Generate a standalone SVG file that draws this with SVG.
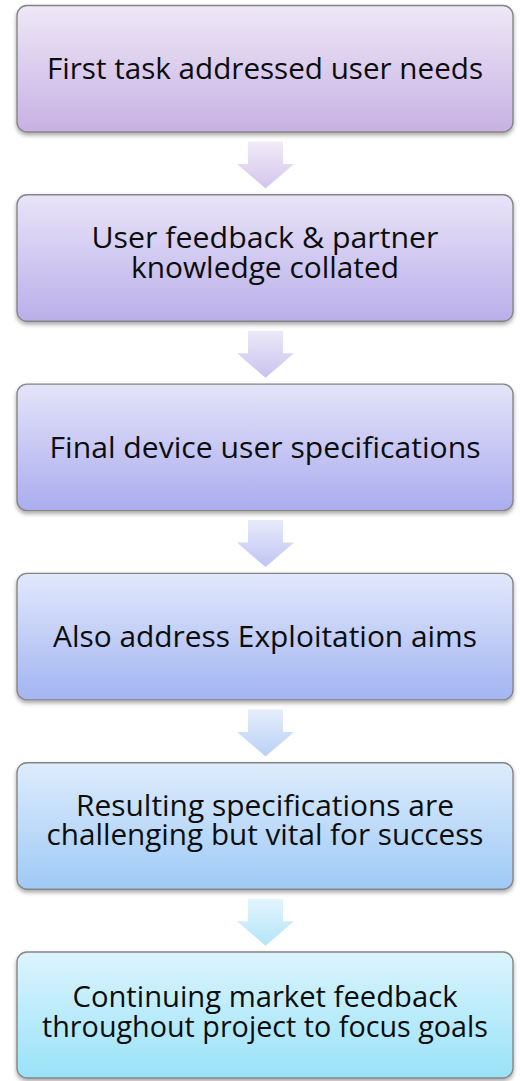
<svg xmlns="http://www.w3.org/2000/svg" width="520" height="1081" viewBox="0 0 520 1081">
  <style>
    .box { stroke: #858585; stroke-width: 1.4; filter: url(#shadow); }
    .label { font-family: "Open Sans", "Liberation Sans", sans-serif; font-size: 29px; fill: #0d0d0d; text-anchor: middle; }
    .arrow { stroke: none; }
  </style>
  <defs>
    <filter id="shadow" x="-5%" y="-10%" width="110%" height="125%">
      <feDropShadow dx="0" dy="2.5" stdDeviation="2" flood-color="#000" flood-opacity="0.35"/>
    </filter>
    <!-- box fills, lighter at the top -->
    <linearGradient id="g1" x1="0" y1="0" x2="0" y2="1">
      <stop offset="0" stop-color="#EEE8F7"/>
      <stop offset="0.85" stop-color="#CDB9E6"/>
      <stop offset="1" stop-color="#C7B1E2"/>
    </linearGradient>
    <linearGradient id="g2" x1="0" y1="0" x2="0" y2="1">
      <stop offset="0" stop-color="#E8E4F7"/>
      <stop offset="0.85" stop-color="#C1B7EC"/>
      <stop offset="1" stop-color="#BAAFE9"/>
    </linearGradient>
    <linearGradient id="g3" x1="0" y1="0" x2="0" y2="1">
      <stop offset="0" stop-color="#E4E4F9"/>
      <stop offset="0.85" stop-color="#B3B4F0"/>
      <stop offset="1" stop-color="#ACADED"/>
    </linearGradient>
    <linearGradient id="g4" x1="0" y1="0" x2="0" y2="1">
      <stop offset="0" stop-color="#E2E8FB"/>
      <stop offset="0.85" stop-color="#ACBCF3"/>
      <stop offset="1" stop-color="#A5B5F1"/>
    </linearGradient>
    <linearGradient id="g5" x1="0" y1="0" x2="0" y2="1">
      <stop offset="0" stop-color="#DEECFC"/>
      <stop offset="0.85" stop-color="#A8CFF7"/>
      <stop offset="1" stop-color="#A0C9F5"/>
    </linearGradient>
    <linearGradient id="g6" x1="0" y1="0" x2="0" y2="1">
      <stop offset="0" stop-color="#DCF4FD"/>
      <stop offset="0.85" stop-color="#A3E5F9"/>
      <stop offset="1" stop-color="#9BE1F7"/>
    </linearGradient>
    <!-- arrow fills -->
    <linearGradient id="a1" x1="0" y1="0" x2="0" y2="1">
      <stop offset="0" stop-color="#F1ECF8"/>
      <stop offset="1" stop-color="#D3C4EC"/>
    </linearGradient>
    <linearGradient id="a2" x1="0" y1="0" x2="0" y2="1">
      <stop offset="0" stop-color="#ECE9F8"/>
      <stop offset="1" stop-color="#C9C2EF"/>
    </linearGradient>
    <linearGradient id="a3" x1="0" y1="0" x2="0" y2="1">
      <stop offset="0" stop-color="#E8EAFA"/>
      <stop offset="1" stop-color="#BFC4F3"/>
    </linearGradient>
    <linearGradient id="a4" x1="0" y1="0" x2="0" y2="1">
      <stop offset="0" stop-color="#E5EEFC"/>
      <stop offset="1" stop-color="#B9D0F6"/>
    </linearGradient>
    <linearGradient id="a5" x1="0" y1="0" x2="0" y2="1">
      <stop offset="0" stop-color="#E3F4FD"/>
      <stop offset="1" stop-color="#B4E5F8"/>
    </linearGradient>
  </defs>

  <rect width="520" height="1081" fill="#FFFFFF"/>

  <!-- down arrows between steps -->
  <g id="connectors" class="arrow">
    <path fill="url(#a1)" d="M248 141.5 H283 V164 H294 L265.5 188.5 L237 164 H248 Z"/>
    <path fill="url(#a2)" d="M248 330.8 H283 V353.3 H294 L265.5 377.8 L237 353.3 H248 Z"/>
    <path fill="url(#a3)" d="M248 520.1 H283 V542.6 H294 L265.5 567.1 L237 542.6 H248 Z"/>
    <path fill="url(#a4)" d="M248 709.4 H283 V731.9 H294 L265.5 756.4 L237 731.9 H248 Z"/>
    <path fill="url(#a5)" d="M248 898.7 H283 V921.2 H294 L265.5 945.7 L237 921.2 H248 Z"/>
  </g>

  <g id="step1">
    <rect class="box" x="17" y="5.5" width="496" height="126.5" rx="10" fill="url(#g1)"/>
    <text class="label" x="265" y="79" textLength="436" lengthAdjust="spacingAndGlyphs">First task addressed user needs</text>
  </g>

  <g id="step2">
    <rect class="box" x="17" y="194.8" width="496" height="126.5" rx="10" fill="url(#g2)"/>
    <text class="label" x="265" y="248" textLength="347" lengthAdjust="spacingAndGlyphs">User feedback &amp; partner</text>
    <text class="label" x="265" y="277.5" textLength="268" lengthAdjust="spacingAndGlyphs">knowledge collated</text>
  </g>

  <g id="step3">
    <rect class="box" x="17" y="384.1" width="496" height="126.5" rx="10" fill="url(#g3)"/>
    <text class="label" x="265" y="458" textLength="431" lengthAdjust="spacingAndGlyphs">Final device user specifications</text>
  </g>

  <g id="step4">
    <rect class="box" x="17" y="573.4" width="496" height="126.5" rx="10" fill="url(#g4)"/>
    <text class="label" x="265" y="647" textLength="424" lengthAdjust="spacingAndGlyphs">Also address Exploitation aims</text>
  </g>

  <g id="step5">
    <rect class="box" x="17" y="762.7" width="496" height="126.5" rx="10" fill="url(#g5)"/>
    <text class="label" x="265" y="815.5" textLength="378" lengthAdjust="spacingAndGlyphs">Resulting specifications are</text>
    <text class="label" x="265" y="845" textLength="437" lengthAdjust="spacingAndGlyphs">challenging but vital for success</text>
  </g>

  <g id="step6">
    <rect class="box" x="17" y="952" width="496" height="126" rx="10" fill="url(#g6)"/>
    <text class="label" x="265" y="1007" textLength="385" lengthAdjust="spacingAndGlyphs">Continuing market feedback</text>
    <text class="label" x="265" y="1036.5" textLength="446" lengthAdjust="spacingAndGlyphs">throughout project to focus goals</text>
  </g>
</svg>
